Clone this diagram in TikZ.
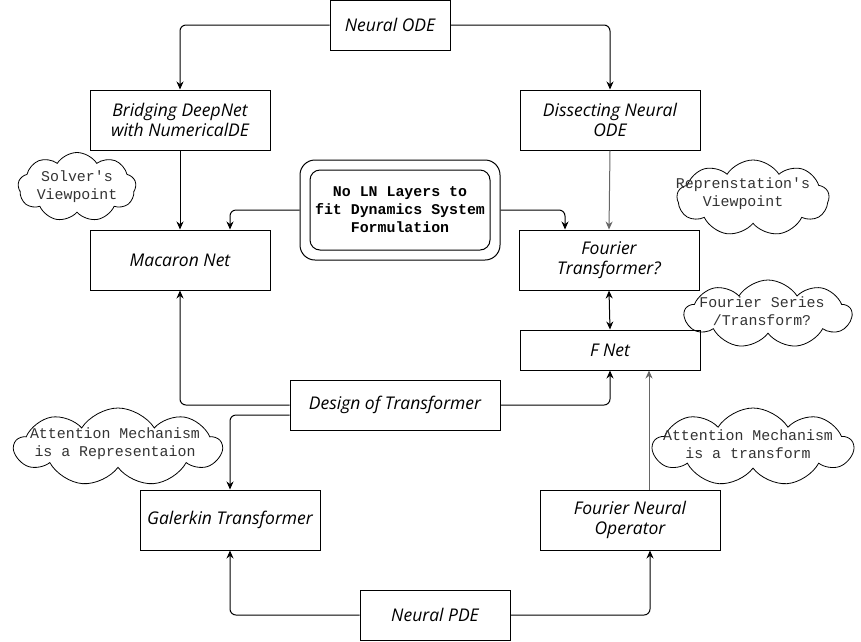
\documentclass[tikz,border=0pt]{standalone}
\usepackage{fontspec}
\setmainfont{Open Sans}
\newfontfamily\monofont{Liberation Mono}
\usetikzlibrary{arrows.meta,shapes.symbols}
\newcommand{\boxfont}{\fontsize{17.5}{20}\selectfont\itshape}
\newcommand{\notefont}{\fontsize{14.9}{18}\selectfont\monofont}

\begin{document}
\begin{tikzpicture}[x=1pt,y=-1pt,
		box/.style={draw, line width=1pt, minimum width=180, minimum height=60, align=center, font=\boxfont, inner sep=1pt},
		cloudy/.style={cloud, draw, line width=0.8pt, cloud puffs=9, cloud puff arc=115, cloud ignores aspect, inner sep=0pt},
		notetext/.style={align=center, font=\notefont, text=black!80, inner sep=0pt},
		arr/.style={-{Stealth[length=8pt,width=7pt]}, line width=1pt, rounded corners=6}]
		\useasboundingbox (0,0) rectangle (861,641);

		\node[box, minimum width=120, minimum height=50] (ode) at (390,25) {Neural ODE};
		\node[box] (bridge) at (180,120) {Bridging DeepNet\\with NumericalDE};
		\node[box] (dissect) at (610,120) {Dissecting Neural\\ODE};
		\node[box] (macaron) at (180,260) {Macaron Net};
		\node[box] (fourtr) at (609,260) {Fourier\\Transformer?};
		\node[box, minimum height=40] (fnet) at (610,350) {F Net};
		\node[box, minimum width=210, minimum height=50] (design) at (395,405) {Design of Transformer};
		\node[box] (galerkin) at (230,520) {Galerkin Transformer};
		\node[box] (fno) at (630,520) {Fourier Neural\\Operator};
		\node[box, minimum width=150, minimum height=50] (pde) at (435,615) {Neural PDE};

		\node[draw, line width=1pt, rounded corners=15, minimum width=200, minimum height=100] (nln) at (400,210) {};
		\node[draw, line width=1pt, rounded corners=10, minimum width=180, minimum height=80, align=center, font={\notefont\bfseries}] (nlnin) at (400,210) {No LN Layers to\\fit Dynamics System\\Formulation};

		\node[cloudy, minimum width=118, minimum height=69] (solver) at (77,187) {};
		\node[notetext] (solvertext) at (solver) {Solver's\\Viewpoint};
		\node[cloudy, minimum width=152, minimum height=76] (repr) at (753,198) {};
		\node[notetext] (reprtext) at (743,194) {Reprenstation's\\Viewpoint};
		\node[cloudy, minimum width=167, minimum height=68] (series) at (768,314) {};
		\node[notetext] (seriestext) at (762,311) {Fourier Series\\/Transform?};
		\node[cloudy, minimum width=207, minimum height=78] (attrep) at (118,447) {};
		\node[notetext] (attreptext) at (115,444) {Attention Mechanism\\is a Representaion};
		\node[cloudy, minimum width=200, minimum height=78] (atttr) at (753,447) {};
		\node[notetext] (atttrtext) at (748,444) {Attention Mechanism\\is a transform};

		\draw[arr] (ode.west) -| (bridge.north);
		\draw[arr] (ode.east) -| (dissect.north);
		\draw[arr] (bridge.south) -- (macaron.north);
		\draw[arr, black!60] (dissect.south) -- (fourtr.north);
		\draw[arr] (nln.west) -| ([xshift=50]macaron.north);
		\draw[arr] (nln.east) -| ([xshift=-44]fourtr.north);
		\draw[arr, {Stealth[length=8pt,width=7pt]}-{Stealth[length=8pt,width=7pt]}] (fourtr.south) -- (fnet.north);
		\draw[arr] (design.west) -| (macaron.south);
		\draw[arr] ([yshift=-10]design.west) -| (galerkin.north);
		\draw[arr] (design.east) -| (fnet.south);
		\draw[arr, black!60] ([xshift=19]fno.north) -- ([xshift=19]fno.north |- fnet.south);
		\draw[arr] (pde.west) -| (galerkin.south);
		\draw[arr] (pde.east) -| ([xshift=20]fno.south);
	\end{tikzpicture}
\end{document}
